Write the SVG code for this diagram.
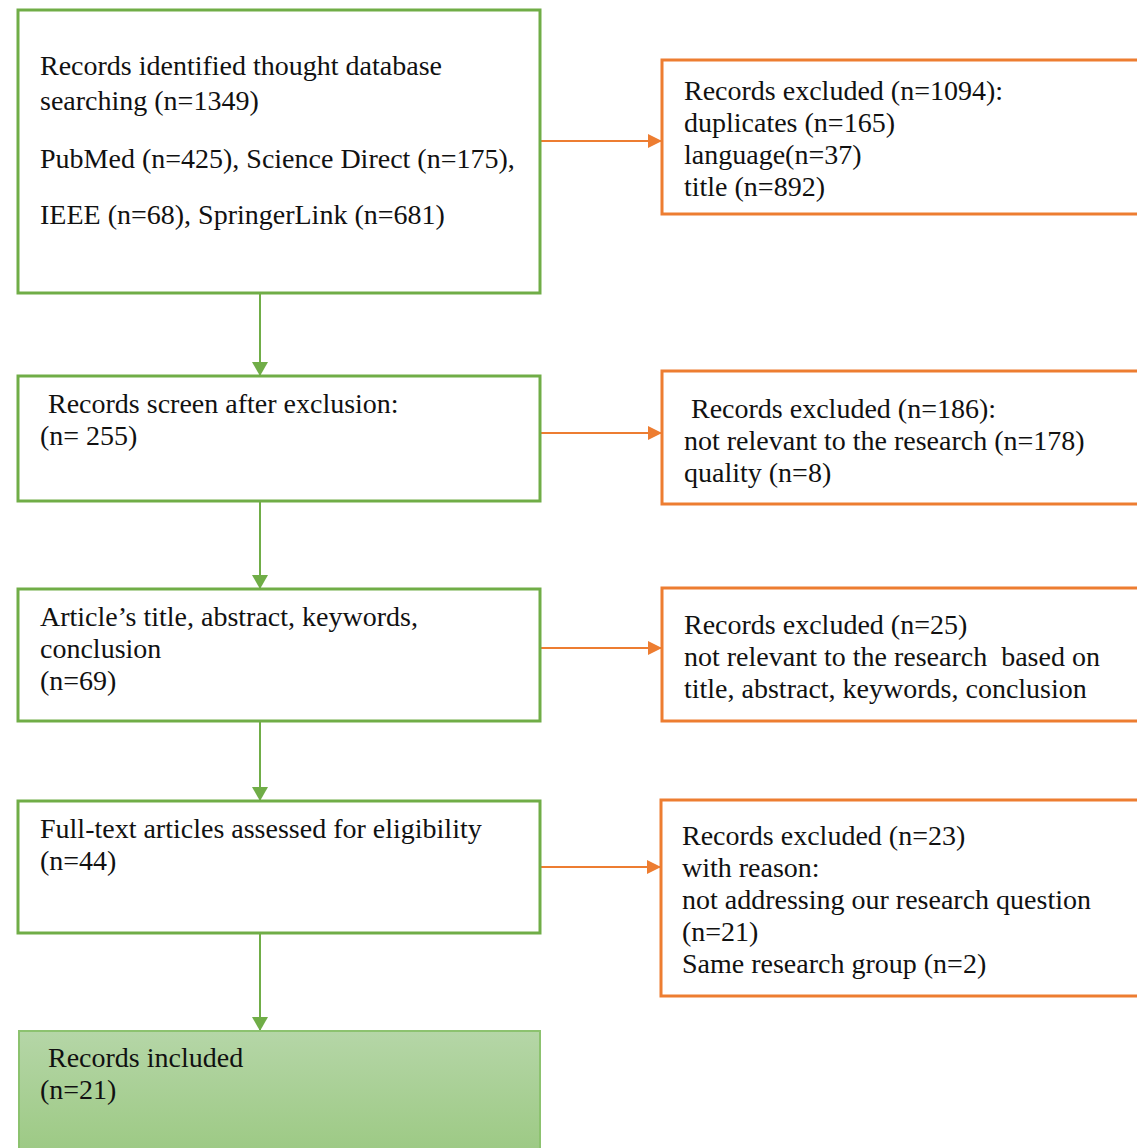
<svg xmlns="http://www.w3.org/2000/svg" width="1137" height="1148" viewBox="0 0 1137 1148">
<style>
.g{fill:#fff;stroke:#70AD47;stroke-width:3}
.o{fill:#fff;stroke:#ED7D31;stroke-width:3}
.t{font-family:"Liberation Serif","Times New Roman",serif;font-size:28px;fill:#111}
.cg{stroke:#70AD47;stroke-width:2;fill:none}
.co{stroke:#ED7D31;stroke-width:2;fill:none}
</style>
<defs>
<marker id="ag" markerUnits="userSpaceOnUse" markerWidth="16" markerHeight="16" refX="14" refY="8" orient="auto"><path d="M0,0 L14,8 L0,16 Z" fill="#70AD47"/></marker>
<marker id="ao" markerUnits="userSpaceOnUse" markerWidth="16" markerHeight="16" refX="14" refY="7" orient="auto"><path d="M0,0 L14,7 L0,14 Z" fill="#ED7D31"/></marker>
<linearGradient id="gf" x1="0" y1="0" x2="0" y2="1"><stop offset="0" stop-color="#B5D6A7"/><stop offset="1" stop-color="#9CC983"/></linearGradient>
</defs>
<rect width="1137" height="1148" fill="#fff"/>
<g id="connectors">
<line class="cg" x1="260" y1="293" x2="260" y2="376" marker-end="url(#ag)" stroke="#A9D18E"/>
<line class="cg" x1="260" y1="501" x2="260" y2="589" marker-end="url(#ag)"/>
<line class="cg" x1="260" y1="721" x2="260" y2="801" marker-end="url(#ag)"/>
<line class="cg" x1="260" y1="933" x2="260" y2="1031" marker-end="url(#ag)"/>
<line class="co" x1="540" y1="141" x2="662" y2="141" marker-end="url(#ao)"/>
<line class="co" x1="540" y1="433" x2="662" y2="433" marker-end="url(#ao)"/>
<line class="co" x1="540" y1="648" x2="662" y2="648" marker-end="url(#ao)"/>
<line class="co" x1="540" y1="867" x2="661" y2="867" marker-end="url(#ao)"/>
</g>
<g id="identified">
<rect class="g" x="18" y="10" width="522" height="283"/>
<text class="t" x="40" y="75">Records identified thought database</text>
<text class="t" x="40" y="110">searching (n=1349)</text>
<text class="t" x="40" y="168">PubMed (n=425), Science Direct (n=175),</text>
<text class="t" x="40" y="224">IEEE (n=68), SpringerLink (n=681)</text>
</g>
<g id="excluded1">
<rect class="o" x="662" y="60" width="480" height="154"/>
<text class="t" x="684" y="100">Records excluded (n=1094):</text>
<text class="t" x="684" y="132">duplicates (n=165)</text>
<text class="t" x="684" y="164">language(n=37)</text>
<text class="t" x="684" y="196">title (n=892)</text>
</g>
<g id="screen">
<rect class="g" x="18" y="376" width="522" height="125"/>
<text class="t" x="48" y="413">Records screen after exclusion:</text>
<text class="t" x="40" y="445">(n= 255)</text>
</g>
<g id="excluded2">
<rect class="o" x="662" y="371" width="480" height="133"/>
<text class="t" x="691" y="418">Records excluded (n=186):</text>
<text class="t" x="684" y="450">not relevant to the research (n=178)</text>
<text class="t" x="684" y="482">quality (n=8)</text>
</g>
<g id="article">
<rect class="g" x="18" y="589" width="522" height="132"/>
<text class="t" x="40" y="626">Article’s title, abstract, keywords,</text>
<text class="t" x="40" y="658">conclusion</text>
<text class="t" x="40" y="690">(n=69)</text>
</g>
<g id="excluded3">
<rect class="o" x="662" y="588" width="480" height="133"/>
<text class="t" x="684" y="634">Records excluded (n=25)</text>
<text class="t" x="684" y="666" xml:space="preserve">not relevant to the research  based on</text>
<text class="t" x="684" y="698">title, abstract, keywords, conclusion</text>
</g>
<g id="fulltext">
<rect class="g" x="18" y="801" width="522" height="132"/>
<text class="t" x="40" y="838">Full-text articles assessed for eligibility</text>
<text class="t" x="40" y="870">(n=44)</text>
</g>
<g id="excluded4">
<rect class="o" x="661" y="800" width="480" height="196"/>
<text class="t" x="682" y="845">Records excluded (n=23)</text>
<text class="t" x="682" y="877">with reason:</text>
<text class="t" x="682" y="909">not addressing our research question</text>
<text class="t" x="682" y="941">(n=21)</text>
<text class="t" x="682" y="973">Same research group (n=2)</text>
</g>
<g id="included">
<rect x="19" y="1031" width="521" height="125" fill="url(#gf)" stroke="#8CC26F" stroke-width="2"/>
<text class="t" x="48" y="1067">Records included</text>
<text class="t" x="40" y="1099">(n=21)</text>
</g>
</svg>
